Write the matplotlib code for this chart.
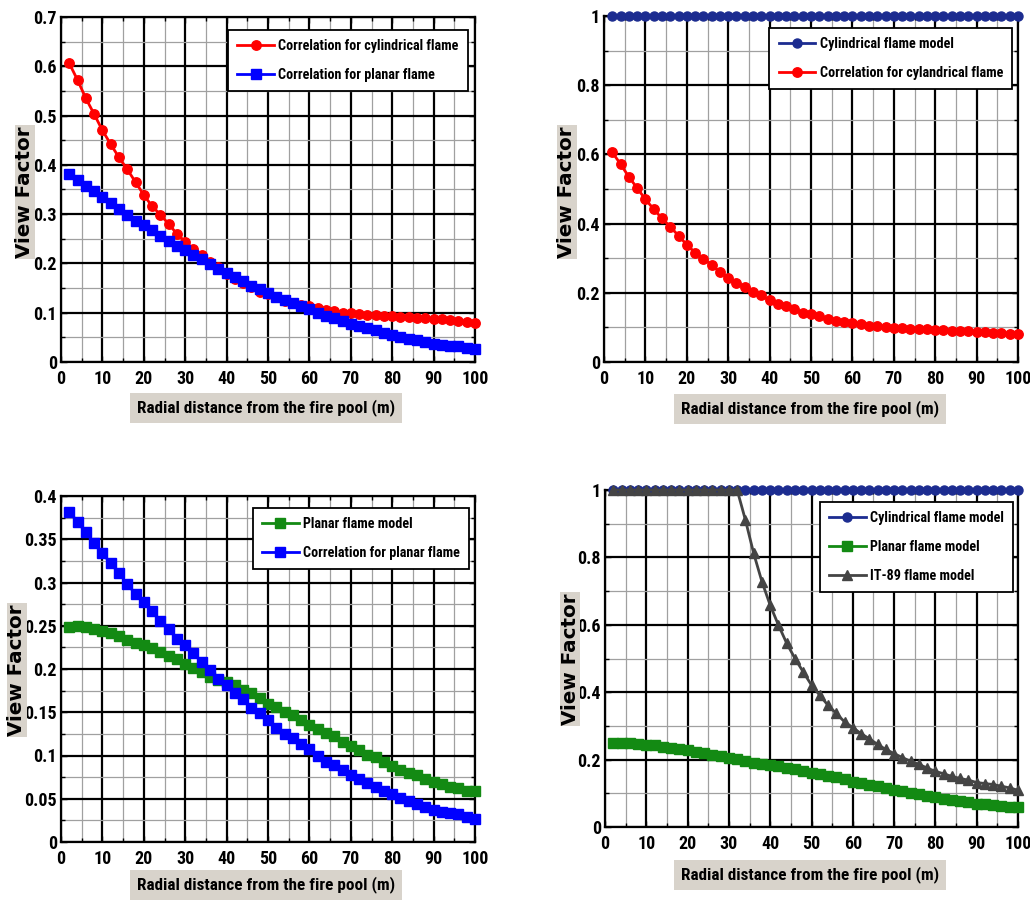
import sys
import matplotlib
matplotlib.use("Agg")
import matplotlib.pyplot as plt
from matplotlib import font_manager as fm
from matplotlib.ticker import MultipleLocator, FormatStrFormatter

# Radial distance from the pool edge (m)
distance = list(range(2, 101, 2))

# View factor series
corr_cylindrical = [0.606, 0.572, 0.535, 0.503, 0.470, 0.442, 0.415, 0.391, 0.365, 0.339,
                    0.316, 0.299, 0.280, 0.260, 0.244, 0.229, 0.217, 0.203, 0.193, 0.178,
                    0.169, 0.161, 0.152, 0.143, 0.138, 0.132, 0.123, 0.119, 0.116, 0.114,
                    0.109, 0.105, 0.103, 0.100, 0.099, 0.097, 0.096, 0.095, 0.094, 0.093,
                    0.092, 0.091, 0.090, 0.089, 0.088, 0.087, 0.085, 0.084, 0.081, 0.080]
corr_planar = [0.382, 0.370, 0.358, 0.346, 0.334, 0.322, 0.311, 0.298, 0.287, 0.278,
               0.267, 0.256, 0.246, 0.235, 0.228, 0.218, 0.208, 0.199, 0.189, 0.181,
               0.172, 0.165, 0.155, 0.149, 0.141, 0.132, 0.125, 0.120, 0.113, 0.107,
               0.100, 0.093, 0.089, 0.083, 0.077, 0.073, 0.068, 0.064, 0.059, 0.055,
               0.051, 0.047, 0.044, 0.040, 0.037, 0.035, 0.033, 0.032, 0.029, 0.027]
planar_model = [0.249, 0.250, 0.248, 0.246, 0.244, 0.242, 0.238, 0.233, 0.230, 0.228,
                0.224, 0.220, 0.215, 0.211, 0.206, 0.201, 0.196, 0.191, 0.187, 0.185,
                0.181, 0.176, 0.172, 0.166, 0.160, 0.156, 0.150, 0.147, 0.141, 0.135,
                0.131, 0.126, 0.122, 0.116, 0.111, 0.106, 0.101, 0.098, 0.093, 0.088,
                0.083, 0.080, 0.077, 0.073, 0.069, 0.067, 0.064, 0.062, 0.059, 0.059]
cylindrical_model = [1.0] * 50
it89_model = [1.0, 1.0, 1.0, 1.0, 1.0, 1.0, 1.0, 1.0, 1.0, 1.0,
              1.0, 1.0, 1.0, 1.0, 1.0, 1.0, 0.911, 0.812, 0.728, 0.658,
              0.599, 0.545, 0.500, 0.460, 0.421, 0.391, 0.361, 0.337, 0.312, 0.295,
              0.277, 0.262, 0.245, 0.230, 0.218, 0.206, 0.195, 0.186, 0.175, 0.165,
              0.158, 0.150, 0.144, 0.139, 0.132, 0.129, 0.126, 0.121, 0.116, 0.109]

XLABEL = "Radial distance from the fire pool (m)"
YLABEL = "View Factor"


def pick_narrow():
    fonts = fm.fontManager.ttflist
    for fam in ["Liberation Sans Narrow", "Arial Narrow", "Roboto Condensed",
                "Open Sans Condensed", "Noto Sans Condensed", "DejaVu Sans Condensed"]:
        if any(f.name == fam for f in fonts):
            return fam, "normal", 1.0
    for fam in ["DejaVu Sans", "Noto Sans", "Open Sans", "Roboto", "Liberation Sans"]:
        for f in fonts:
            if f.name == fam and str(f.stretch) in ("condensed", "semi-condensed",
                                                    "extra-condensed"):
                return fam, str(f.stretch), 0.9
    return "DejaVu Sans", "normal", 0.78


NARROW, STRETCH, SCALE = pick_narrow()
print("narrow font:", NARROW, STRETCH, file=sys.stderr)
LABEL_BG = "#d8d3cb"

RED = "#ff0000"
BLUE = "#0000ff"
NAVY = "#1c2c90"
GREEN = "#138a13"
GRAY = "#444444"

W, H = 1030, 902
fig = plt.figure(figsize=(W / 100, H / 100), dpi=100)


def px_axes(left, top, right, bottom):
    return fig.add_axes([left / W, 1 - bottom / H, (right - left) / W, (bottom - top) / H])


def narrow_props(size):
    return dict(family=NARROW, stretch=STRETCH, weight="bold", size=size * SCALE)


def style(ax, ymax, ymajor, yfmt):
    ax.set_xlim(0, 100)
    ax.set_ylim(0, ymax)
    ax.xaxis.set_major_locator(MultipleLocator(10))
    ax.xaxis.set_minor_locator(MultipleLocator(5))
    ax.yaxis.set_major_locator(MultipleLocator(ymajor))
    ax.yaxis.set_minor_locator(MultipleLocator(ymajor / 2))
    ax.yaxis.set_major_formatter(FormatStrFormatter(yfmt))
    ax.grid(which="major", color="black", linewidth=1.6)
    ax.grid(which="minor", color="#a0a0a0", linewidth=0.9)
    ax.set_axisbelow(True)
    ax.tick_params(which="both", direction="in", top=True, right=True, width=1.0)
    ax.tick_params(which="major", length=4)
    ax.tick_params(axis="x", which="major", pad=6)
    ax.tick_params(axis="y", which="major", pad=3)
    ax.tick_params(which="minor", length=3)
    for sp in ax.spines.values():
        sp.set_linewidth(1.6)
    p = narrow_props(13)
    for lab in ax.get_xticklabels() + ax.get_yticklabels():
        lab.set_fontfamily(p["family"])
        lab.set_fontstretch(p["stretch"])
        lab.set_fontweight("bold")
        lab.set_fontsize(p["size"])


def labels(xc, xy, yc, yy):
    p = narrow_props(12.3)
    fig.text(xc / W, 1 - xy / H, XLABEL, ha="center", va="center",
             family=p["family"], stretch=p["stretch"], weight="bold", fontsize=p["size"],
             bbox=dict(boxstyle="square,pad=0.4", fc=LABEL_BG, ec="none"))
    fig.text(yc / W, 1 - yy / H, YLABEL, ha="center", va="center", rotation=90,
             family="DejaVu Sans", weight="bold", fontsize=14.3,
             bbox=dict(boxstyle="square,pad=0.05", fc=LABEL_BG, ec="none"))


def legend(ax, anchor):
    leg = ax.legend(loc="upper right", bbox_to_anchor=anchor, borderaxespad=0,
                    prop=narrow_props(10.2),
                    fancybox=False, framealpha=1, edgecolor="black",
                    handlelength=2.6, handletextpad=0.3, labelspacing=1.05,
                    borderpad=0.65)
    leg.get_frame().set_linewidth(1.3)
    return leg


def series(ax, y, color, marker, ms, label):
    ax.plot(distance, y, color=color, marker=marker, markersize=ms, linewidth=2.0,
            markeredgecolor=color, label=label, clip_on=False, zorder=3)


# Top-left: the two correlations
ax1 = px_axes(61, 17, 475, 362)
series(ax1, corr_cylindrical, RED, "o", 6.8, "Correlation for cylindrical flame")
series(ax1, corr_planar, BLUE, "s", 7.2, "Correlation for planar flame")
style(ax1, 0.7, 0.1, "%g")
legend(ax1, (0.983, 0.962))
labels(266, 408, 25, 192)

# Top-right: cylindrical model against its correlation
ax2 = px_axes(604, 16, 1018, 362)
series(ax2, cylindrical_model, NAVY, "o", 6.5, "Cylindrical flame model")
series(ax2, corr_cylindrical, RED, "o", 6.8, "Correlation for cylandrical flame")
style(ax2, 1.0, 0.2, "%g")
legend(ax2, (0.986, 0.965))
labels(810, 409, 567, 192)

# Bottom-left: planar model against its correlation
ax3 = px_axes(61, 496, 475, 842)
series(ax3, planar_model, GREEN, "s", 7.2, "Planar flame model")
series(ax3, corr_planar, BLUE, "s", 7.2, "Correlation for planar flame")
style(ax3, 0.4, 0.05, "%g")
legend(ax3, (0.986, 0.965))
labels(266, 885, 17, 670)

# Bottom-right: the three flame models
ax4 = px_axes(605, 490, 1018, 827)
series(ax4, cylindrical_model, NAVY, "o", 6.5, "Cylindrical flame model")
series(ax4, planar_model, GREEN, "s", 7.2, "Planar flame model")
series(ax4, it89_model, GRAY, "^", 6.8, "IT-89 flame model")
style(ax4, 1.0, 0.2, "%g")
legend(ax4, (0.988, 0.964))
labels(810, 875, 570, 659)

fig.savefig("out.png", dpi=100)
